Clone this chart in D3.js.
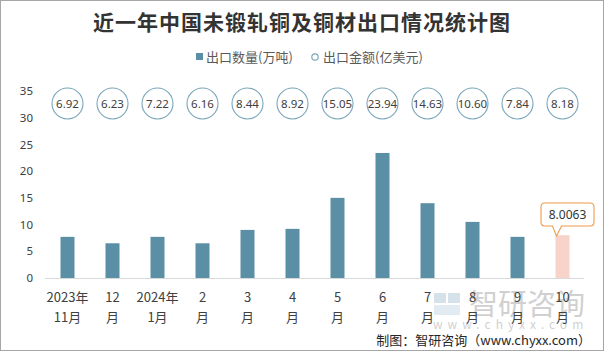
<!DOCTYPE html>
<html><head><meta charset="utf-8">
<script src="https://cdn.jsdelivr.net/npm/d3@7"></script>
<style>
html,body{margin:0;padding:0;background:#fff;}
svg{display:block;font-family:"Noto Sans CJK SC","Noto Sans",sans-serif;}
</style></head>
<body>
<svg id="c" width="604" height="351"></svg>
<script>
const catLine1 = ["2023年","12","2024年","2","3","4","5","6","7","8","9","10"];
const catLine2 = ["11月","月","1月","月","月","月","月","月","月","月","月","月"];
const quantity = [7.7, 6.5, 7.7, 6.5, 9.0, 9.2, 15.0, 23.4, 14.0, 10.5, 7.7, 8.0063];
const amount = ["6.92","6.23","7.22","6.16","8.44","8.92","15.05","23.94","14.63","10.60","7.84","8.18"];
const yTicks = [0,5,10,15,20,25,30,35];

const svg = d3.select("#c");
const W = 604, H = 351;
svg.append("rect").attr("x",0.5).attr("y",0.5).attr("width",W-1).attr("height",H-1)
  .attr("fill","#fff").attr("stroke","#a6a6a6");

const idx = d3.range(catLine1.length);
const x = d3.scaleBand().domain(idx).range([45,585]);
const y = d3.scaleLinear().domain([0,35]).range([278,91]);

// title
svg.append("text").attr("x",302).attr("y",30).attr("text-anchor","middle")
  .attr("font-size",21).attr("font-weight","bold").attr("fill","#333")
  .attr("letter-spacing","1")
  .text("近一年中国未锻轧铜及铜材出口情况统计图");

// legend
svg.append("rect").attr("x",196).attr("y",53).attr("width",7).attr("height",7).attr("fill","#5b8fa6");
svg.append("text").attr("x",206).attr("y",61.5).attr("font-size",13).attr("fill","#595959").text("出口数量(万吨)");
svg.append("circle").attr("cx",315).attr("cy",57).attr("r",3.2).attr("fill","#fff").attr("stroke","#7aa6ba").attr("stroke-width",1.2);
svg.append("text").attr("x",323).attr("y",61.5).attr("font-size",13).attr("fill","#595959").text("出口金额(亿美元)");

// y axis labels
const yAxis = d3.axisLeft(y).tickValues(yTicks).tickSize(0).tickPadding(0);
const ga = svg.append("g").attr("transform","translate(33,0)").call(yAxis);
ga.select(".domain").remove();
ga.selectAll("text").attr("font-size",11.5).attr("fill","#404040").attr("font-family","'Noto Sans',sans-serif");

// watermark (behind labels)
const wm = svg.append("g").attr("opacity",0.4);
wm.append("rect").attr("x",434).attr("y",293).attr("width",12).attr("height",10).attr("fill","#9ab8cc");
wm.append("rect").attr("x",448).attr("y",293).attr("width",12).attr("height",10).attr("fill","#9ab8cc");
wm.append("rect").attr("x",434).attr("y",305).attr("width",26).attr("height",10).attr("fill","#b8cfdd");
wm.append("text").attr("x",469).attr("y",315).attr("font-size",29).attr("fill","#8c8c8c").text("智研咨询");
wm.append("text").attr("x",433).attr("y",329).attr("font-size",12).attr("fill","#8c8c8c")
  .attr("letter-spacing","5").text("www.chyxx.com");

// bars
const bw = 14;
svg.append("g").selectAll("rect").data(idx).join("rect")
  .attr("x", i => x(i) + x.bandwidth()/2 - bw/2)
  .attr("y", i => y(quantity[i]))
  .attr("width", bw)
  .attr("height", i => y(0) - y(quantity[i]))
  .attr("fill", i => i === idx.length-1 ? "#f8d3ca" : "#5b8fa6");

// x axis line
svg.append("line").attr("x1",45).attr("x2",584).attr("y1",278.5).attr("y2",278.5)
  .attr("stroke","#d9d9d9").attr("stroke-width",1);

// x labels
const xl = svg.append("g").attr("font-size",13).attr("fill","#404040").attr("text-anchor","middle");
xl.selectAll("text.l1").data(idx).join("text").attr("class","l1")
  .attr("x", i => x(i)+x.bandwidth()/2).attr("y",302).text(i => catLine1[i]);
xl.selectAll("text.l2").data(idx).join("text").attr("class","l2")
  .attr("x", i => x(i)+x.bandwidth()/2).attr("y",322).text(i => catLine2[i]);

// amount circles
const cg = svg.append("g");
cg.selectAll("circle").data(idx).join("circle")
  .attr("cx", i => x(i)+x.bandwidth()/2).attr("cy",103.5).attr("r",15.5)
  .attr("fill","#fff").attr("stroke","#7aa6ba").attr("stroke-width",1.1);
cg.selectAll("text").data(idx).join("text")
  .attr("x", i => x(i)+x.bandwidth()/2).attr("y",107.5).attr("text-anchor","middle")
  .attr("font-size",11.5).attr("fill","#404040").attr("font-family","'Noto Sans',sans-serif")
  .text(i => amount[i]);

// callout for last bar
const li = idx.length-1;
const bx = x(li) + x.bandwidth()/2;
const by = y(quantity[li]);
const rx0 = 541, rx1 = 594, ry0 = 203, ry1 = 226, r = 4;
const px = bx - 6;
const path = `M${rx0+r},${ry0} L${rx1-r},${ry0} Q${rx1},${ry0} ${rx1},${ry0+r} L${rx1},${ry1-r} Q${rx1},${ry1} ${rx1-r},${ry1}
 L${px+5},${ry1} L${px},${by+1} L${px-4},${ry1} L${rx0+r},${ry1} Q${rx0},${ry1} ${rx0},${ry1-r} L${rx0},${ry0+r} Q${rx0},${ry0} ${rx0+r},${ry0} Z`;
svg.append("path").attr("d",path).attr("fill","#fff").attr("stroke","#ed9a4a").attr("stroke-width",1.1);
svg.append("text").attr("x",(rx0+rx1)/2).attr("y",219).attr("text-anchor","middle")
  .attr("font-size",12).attr("fill","#333").attr("font-family","'Noto Sans',sans-serif")
  .text(d3.format(".4f")(quantity[li]));

// footer
svg.append("text").attr("x",591).attr("y",345).attr("text-anchor","end")
  .attr("font-size",13).attr("fill","#262626").text("制图：智研咨询（www.chyxx.com）");
</script>
</body></html>
